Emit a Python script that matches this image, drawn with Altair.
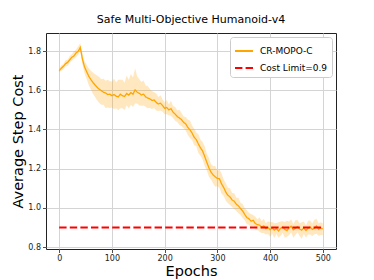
import altair as alt
import pandas as pd

# ---- data (every 4 epochs) ----
epochs = list(range(0, 501, 4))

mean_cost = [
    1.700, 1.712, 1.722, 1.735, 1.742, 1.755, 1.768, 1.775, 1.790, 1.798,
    1.818, 1.760, 1.720, 1.695, 1.672, 1.655, 1.640, 1.627, 1.615, 1.605,
    1.598, 1.590, 1.586, 1.578, 1.580, 1.572, 1.578, 1.570, 1.566, 1.580,
    1.572, 1.568, 1.584, 1.575, 1.588, 1.580, 1.602, 1.590, 1.584, 1.576,
    1.580, 1.566, 1.560, 1.556, 1.548, 1.550, 1.538, 1.530, 1.534, 1.522,
    1.508, 1.512, 1.500, 1.506, 1.488, 1.478, 1.466, 1.458, 1.450, 1.436,
    1.428, 1.410, 1.398, 1.382, 1.360, 1.348, 1.326, 1.306, 1.290, 1.262,
    1.232, 1.204, 1.182, 1.168, 1.158, 1.150, 1.148, 1.122, 1.104, 1.080,
    1.064, 1.056, 1.040, 1.034, 1.018, 1.010, 0.996, 0.984, 0.966, 0.950,
    0.944, 0.932, 0.936, 0.920, 0.914, 0.912, 0.902, 0.908, 0.894, 0.900,
    0.888, 0.898, 0.886, 0.895, 0.882, 0.896, 0.902, 0.890, 0.884, 0.898,
    0.906, 0.888, 0.895, 0.904, 0.892, 0.886, 0.898, 0.884, 0.896, 0.902,
    0.890, 0.895, 0.908, 0.890, 0.898, 0.892,
]

# distance from the mean to the top / bottom of the shaded band
upper_dev = [
    0.010, 0.015, 0.012, 0.018, 0.014, 0.020, 0.016, 0.022, 0.018, 0.025,
    0.022, 0.030, 0.028, 0.035, 0.040, 0.045, 0.050, 0.055, 0.060, 0.062,
    0.058, 0.068, 0.062, 0.075, 0.066, 0.072, 0.080, 0.070, 0.088, 0.074,
    0.082, 0.070, 0.090, 0.078, 0.095, 0.085, 0.110, 0.080, 0.072, 0.066,
    0.070, 0.058, 0.062, 0.050, 0.048, 0.040, 0.045, 0.036, 0.040, 0.032,
    0.030, 0.038, 0.028, 0.040, 0.032, 0.036, 0.030, 0.042, 0.034, 0.030,
    0.036, 0.040, 0.048, 0.038, 0.044, 0.036, 0.050, 0.042, 0.046, 0.052,
    0.044, 0.050, 0.040, 0.046, 0.055, 0.038, 0.048, 0.052, 0.040, 0.046,
    0.038, 0.044, 0.036, 0.040, 0.034, 0.042, 0.030, 0.036, 0.032, 0.038,
    0.030, 0.036, 0.028, 0.034, 0.026, 0.040, 0.030, 0.036, 0.028, 0.032,
    0.040, 0.030, 0.036, 0.028, 0.045, 0.034, 0.030, 0.038, 0.050, 0.032,
    0.036, 0.028, 0.042, 0.034, 0.030, 0.040, 0.032, 0.026, 0.038, 0.034,
    0.030, 0.044, 0.036, 0.032, 0.028, 0.030,
]

lower_dev = [
    0.010, 0.012, 0.016, 0.012, 0.018, 0.014, 0.018, 0.016, 0.020, 0.018,
    0.015, 0.028, 0.032, 0.036, 0.045, 0.050, 0.058, 0.062, 0.066, 0.070,
    0.072, 0.064, 0.076, 0.066, 0.070, 0.060, 0.074, 0.062, 0.068, 0.072,
    0.064, 0.070, 0.060, 0.068, 0.062, 0.066, 0.070, 0.058, 0.062, 0.055,
    0.058, 0.050, 0.052, 0.046, 0.044, 0.040, 0.042, 0.036, 0.038, 0.032,
    0.030, 0.034, 0.028, 0.036, 0.030, 0.034, 0.028, 0.036, 0.032, 0.030,
    0.034, 0.038, 0.042, 0.036, 0.040, 0.034, 0.046, 0.040, 0.044, 0.048,
    0.042, 0.046, 0.038, 0.044, 0.050, 0.040, 0.046, 0.050, 0.042, 0.044,
    0.040, 0.042, 0.036, 0.040, 0.034, 0.038, 0.032, 0.036, 0.030, 0.034,
    0.030, 0.034, 0.028, 0.032, 0.026, 0.034, 0.030, 0.036, 0.030, 0.034,
    0.036, 0.030, 0.040, 0.028, 0.034, 0.038, 0.030, 0.042, 0.032, 0.036,
    0.030, 0.040, 0.034, 0.028, 0.036, 0.044, 0.030, 0.036, 0.032, 0.038,
    0.034, 0.030, 0.040, 0.032, 0.036, 0.030,
]

cost_limit = 0.9
limit_epochs = [0, 500]
series_names = ["CR-MOPO-C", "Cost Limit=0.9"]
x_ticks = [0, 100, 200, 300, 400, 500]
y_ticks = [0.8, 1.0, 1.2, 1.4, 1.6, 1.8]

df = pd.DataFrame({
    "epoch": epochs,
    "mean": mean_cost,
    "lo": [m - d for m, d in zip(mean_cost, lower_dev)],
    "hi": [m + d for m, d in zip(mean_cost, upper_dev)],
    "series": series_names[0],
})
lim = pd.DataFrame({
    "epoch": limit_epochs,
    "mean": [cost_limit] * len(limit_epochs),
    "series": series_names[1],
})

FONT = "DejaVu Sans"
xs = alt.Scale(domain=[-25, 525], nice=False, zero=False)
ys = alt.Scale(domain=[0.79, 1.892], nice=False, zero=False)
xaxis = alt.Axis(values=x_ticks, title="Epochs", format="d")
yaxis = alt.Axis(values=y_ticks, title="Average Step Cost", format=".1f")

color = alt.Color(
    "series:N",
    scale=alt.Scale(domain=series_names, range=["#FFA500", "#FF0000"]),
    legend=alt.Legend(title=None),
)
dash = alt.StrokeDash(
    "series:N",
    scale=alt.Scale(domain=series_names, range=[[1, 0], [7.4, 3.2]]),
    legend=alt.Legend(title=None),
)

band = alt.Chart(df).mark_area(color="#FFA500", opacity=0.25).encode(
    x=alt.X("epoch:Q", scale=xs, axis=xaxis),
    y=alt.Y("lo:Q", scale=ys, axis=yaxis),
    y2="hi:Q",
)

line = alt.Chart(df).mark_line(strokeWidth=1.3).encode(
    x=alt.X("epoch:Q", scale=xs, axis=xaxis),
    y=alt.Y("mean:Q", scale=ys, axis=yaxis),
    color=color,
    strokeDash=dash,
)

limit = alt.Chart(lim).mark_line(strokeWidth=2).encode(
    x=alt.X("epoch:Q", scale=xs, axis=xaxis),
    y=alt.Y("mean:Q", scale=ys, axis=yaxis),
    color=color,
    strokeDash=dash,
)

chart = alt.layer(band, line, limit).properties(
    width=290,
    height=216,
    title=alt.TitleParams(
        "Safe Multi-Objective Humanoid-v4",
        fontSize=11, font=FONT, fontWeight="normal", color="#000000", offset=8,
    ),
    autosize=alt.AutoSizeParams(type="none"),
    padding={"left": 38, "top": 25, "right": 30, "bottom": 30},
).configure_view(
    stroke="#222222", strokeWidth=1,
).configure_axis(
    grid=True, gridColor="#d4d4d4", gridWidth=1,
    domain=False, tickColor="#222222", tickSize=3.5, tickWidth=0.8,
    labelFont=FONT, labelFontSize=8, labelColor="#222222", labelPadding=2,
    titleFont=FONT, titleFontSize=14.5, titleFontWeight="normal",
    titleColor="#000000", titlePadding=2,
).configure_legend(
    orient="top-right", offset=4, padding=4,
    fillColor="white", strokeColor="#cccccc", cornerRadius=3,
    labelFont=FONT, labelFontSize=9, labelColor="#000000",
    symbolType="stroke", symbolSize=324, symbolStrokeWidth=2,
    rowPadding=2, labelOffset=6,
)

chart.save("out.html", embed_options={"renderer": "svg", "actions": False})
